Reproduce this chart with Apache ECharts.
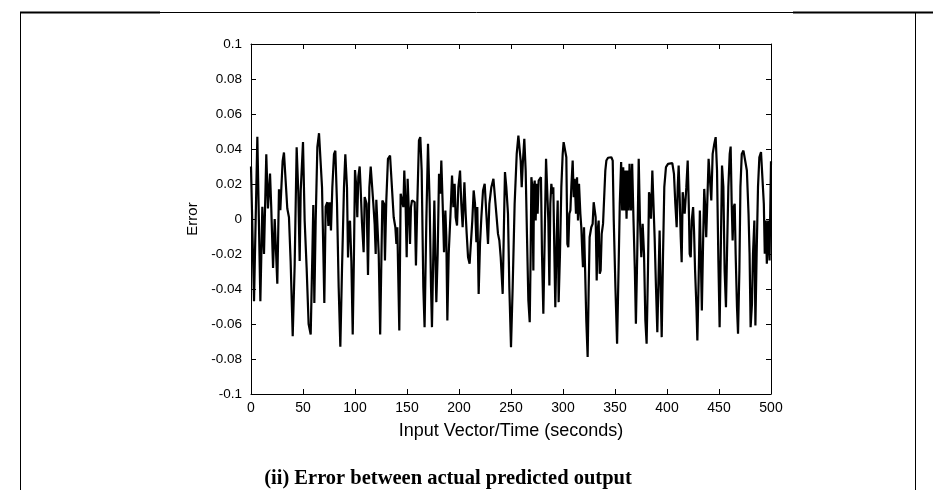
<!DOCTYPE html>
<html><head><meta charset="utf-8">
<script src="https://cdn.jsdelivr.net/npm/echarts@6.0.0/dist/echarts.min.js"></script>
<style>html,body{margin:0;padding:0;background:#fff}#c{width:933px;height:490px}</style>
</head><body><div id="c"></div>
<script>
const timeValues = [
0,2.9,6.1,9,10.9,12.5,14.7,16.3,18.3,19.5,21.2,22.1,22.8,24.4,25.3,26.9,28.2,29.2,30.4,31.7,33.3,34.9,36.5,38.1,40.1,42,43.9,45.5,46.8,47.8,50,51.6,53.5,55.4,57.4,59,59.9,60.9,62.2,63.8,65.4,67,68.3,69.6,70.5,71.8,73.4,74.4,75.6,76.9,78.2,79.8,81.1,82.7,84.3,85.9,87.5,89.4,90.7,92.3,93.3,94.2,95.2,96.5,97.8,99,100,101.3,102.2,103.2,104.5,105.4,106.7,108.3,109.3,110.3,111.2,112.5,113.8,115.1,116.3,117.6,118.9,119.9,120.5,121.5,122.8,124.2,
126.3,127.9,128.8,130.1,131.7,133.7,135.6,137.2,138.8,139.8,140.7,142.6,143.9,145.5,146.5,147.4,148.7,149.7,150.6,151.9,152.9,153.8,154.8,156.1,157.4,158.6,159.9,161.5,162.8,164.1,165.7,166.9,168.6,170.2,171.8,173.1,174,175.3,176.3,177.2,178.2,179.5,180.8,182.1,183,184.3,185.6,186.9,187.8,188.8,190.1,191.7,193.3,194.6,195.8,196.8,198.1,199.4,201,202.2,203.5,205.2,206.4,207.4,208.7,210.2,211.8,212.8,214.1,215.4,216.7,217.6,218.9,220.2,221.5,223.1,224.7,226.6,227.9,229.2,231.1,233.1,234.6,235.9,237.5,238.8,240.1,242,243.3,244.2,245.5,247.1,
248.4,250,251.6,253.5,255.5,257.1,258.3,259.3,260.3,261.5,262.8,264.1,265.4,266.7,268,268.9,269.6,270.5,271.5,272.1,272.8,273.7,274.7,275.6,276.6,277.6,278.8,279.8,281.1,282.4,283.7,285,285.9,286.9,287.8,288.8,289.8,290.7,291.7,292.6,293.9,294.9,295.8,297.1,298.4,299.7,300.6,302.2,303.2,304.2,305.1,306.1,307.1,308,309.3,310.3,311.2,312.5,313.5,314.4,315.4,316.7,317.6,318.6,319.2,320.2,321.2,322.4,323.7,324.7,325.6,327.2,328.5,329.5,330.4,331.4,332.4,333.3,334.3,335.3,336.2,337.2,338.5,339.7,340.7,341.7,343.3,344.9,346.5,347.8,348.8,350.4,352,353.4,354.6,355.9,356.9,357.9,358.8,360.1,361.1,362,363,364,365.3,366.5,367.8,369.1,370.1,371.4,
372.8,374,375.3,376.6,377.9,379.2,380.4,381.7,382.7,383.7,384.6,385.9,386.9,388.1,389.4,390.7,392,392.9,393.9,394.9,396.2,397.4,399,401,402.9,405.1,406.7,408,409.3,410.3,411.2,412.2,413.2,414.1,415.1,416.1,417,418.6,419.9,420.9,421.8,422.8,423.8,425.1,426,427,428.3,429.2,430.4,431.6,432.6,433.5,434.8,435.8,436.7,437.7,438.7,440,441.3,442.6,443.9,445.5,446.8,448.1,449.4,450.6,451.9,452.9,454.2,455.4,456.7,457.7,459,460.3,461.2,462.2,463.1,464.1,465.1,466,467.3,468.3,469.6,470.6,471.9,473.5,475.1,476.8,478.4,479.4,480.4,481.7,482.7,484,485,486.2,487.5,488.8,490.4,492.1,493.1,494,495,496,497.3,498.6,500
];
const errorValues = [
0.03,-0.047,0.047,-0.047,0.007,-0.020,0.037,0.006,0.026,0.006,-0.028,-0.028,0.0,0.0,-0.037,0.017,0.005,0.018,0.033,0.038,0.022,0.006,0.001,-0.024,-0.067,-0.026,0.041,0.015,-0.024,0.016,0.044,-0.001,-0.028,-0.060,-0.066,-0.020,0.008,-0.048,-0.001,0.041,0.049,0.050,0.018,-0.020,-0.048,0.007,0.0096,-0.004,0.0096,-0.0066,0.018,0.037,0.039,0.0087,-0.039,-0.073,-0.029,0.018,0.037,0.018,-0.022,-0.003,-0.001,-0.024,-0.066,-0.020,0.028,0.018,0.001,0.024,0.030,0.018,-0.002,-0.019,0.0125,0.0125,0.0087,-0.032,0.018,0.030,0.031,0.009,-0.003,-0.020,0.011,0.010,-0.020,-0.066,
0.0106,0.0087,-0.0237,0.0106,0.0344,0.0363,0.0363,0.001,-0.0047,-0.0142,-0.0047,-0.0637,0.0144,0.0153,0.0068,0.0277,0.0068,-0.0218,0.023,0.022,-0.0142,0.0068,0.0106,0.0106,0.0096,-0.0266,0.0087,0.0449,0.0468,0.0277,-0.039,-0.0618,-0.0009,0.043,0.0087,-0.039,-0.0618,-0.0199,0.0106,-0.0199,-0.0475,-0.0199,0.0258,0.0144,0.0334,0.0087,-0.019,0.0049,-0.0104,-0.058,-0.0199,0.001,0.0249,0.0068,0.0201,0.001,-0.0037,0.0182,0.0277,0.0087,-0.0047,0.021,0.003,-0.0085,-0.0218,-0.0256,-0.0256,-0.0009,0.0163,0.0087,-0.0133,0.0068,-0.0428,-0.0142,0.001,0.0163,0.0201,0.0201,-0.0142,0.0087,0.0182,0.023,0.023,0.003,-0.0085,-0.0123,-0.0218,-0.0428,-0.0009,0.0268,0.0182,0.003,
-0.039,-0.0732,-0.039,0.0087,0.0372,0.0477,0.0487,0.0334,0.0182,0.0334,0.0458,0.0277,-0.0104,-0.0466,-0.059,-0.0199,0.0239,0.0182,-0.0294,0.0182,0.022,-0.0009,0.0201,0.003,0.022,0.023,0.0239,-0.0199,-0.0542,-0.0104,0.0344,0.0334,-0.0009,-0.038,0.0087,0.0201,0.0144,0.0182,-0.0199,-0.0504,-0.0104,0.0106,-0.0475,-0.0199,0.0182,0.0372,0.0439,0.0449,0.0353,-0.0142,-0.0161,0.003,0.0049,0.0182,0.0334,0.0125,0.023,0.003,0.0239,-0.0009,0.0201,0.003,-0.0047,-0.0199,-0.0275,-0.0047,-0.0275,-0.058,-0.0789,-0.039,-0.0104,-0.0047,-0.0028,0.0096,0.0096,0.001,-0.0351,-0.0066,-0.0009,-0.0313,-0.0294,-0.0085,-0.0028,-0.0028,0.0277,0.0334,0.035,0.0353,0.0353,0.0334,-0.0009,-0.039,-0.0713,-0.0294,0.0087,0.0325,0.0049,0.0296,0.0049,0.0277,0.0001,0.0277,0.0049,0.0315,0.0049,0.0315,-0.0009,-0.0294,-0.0599,-0.0199,
0.0344,-0.0009,-0.0218,-0.0028,-0.0199,-0.058,-0.0713,-0.0294,0.0153,0.0125,0.0001,0.0277,0.0287,-0.0104,-0.039,-0.0647,-0.0294,-0.0066,-0.039,-0.0675,-0.0199,0.0182,0.0296,0.0315,0.0319,0.0319,0.0258,0.0087,-0.0047,0.0182,0.0306,0.0125,-0.0104,-0.0247,0.0153,0.0163,0.003,0.0182,0.0334,0.0087,-0.0199,-0.0218,-0.0009,0.0068,-0.0066,-0.0294,-0.0504,-0.0694,-0.0351,0.0049,-0.0237,-0.0523,-0.0104,0.0172,0.0068,-0.0104,0.0087,0.0344,0.0334,0.0106,0.0372,0.043,0.0468,0.0277,-0.0237,-0.0618,-0.0104,0.0306,0.0182,-0.0294,-0.0504,-0.0199,0.0182,0.0372,0.0414,0.0087,-0.0123,0.0068,0.0087,-0.0199,-0.0504,-0.0656,-0.0294,0.0182,0.0372,0.0391,0.0395,0.0277,0.003,-0.0199,-0.0618,-0.0485,-0.0199,-0.0009,-0.0609,-0.0199,0.0182,0.0353,0.0382,0.0382,0.0087,-0.0199,-0.0009,-0.0256,-0.0009,-0.0237,0.033
];
const xAxisName = 'Input Vector/Time (seconds)';
const yAxisName = 'Error';
const captionText = '(ii) Error between actual predicted output';

const chart = echarts.init(document.getElementById('c'), null, {renderer:'canvas'});
const lineData = timeValues.map((t, i) => [t, errorValues[i]]);
const fmtY = v => String(+(+v).toFixed(2));
const tickFont = 'Liberation Sans, Arial, sans-serif';
function axisBase() {
  return {
    axisLine:{show:true, onZero:false, lineStyle:{color:'#000', width:1}},
    axisTick:{show:true, inside:true, length:5, lineStyle:{color:'#000'}},
    splitLine:{show:false}
  };
}
chart.setOption({
  animation:false,
  backgroundColor:'#fff',
  grid:{left:251, right:162, top:44, bottom:96, show:false},
  xAxis:[
    Object.assign(axisBase(), {type:'value', min:0, max:500, interval:50, position:'bottom',
      axisLabel:{color:'#000', fontSize:14, fontFamily:tickFont, margin:7},
      name:xAxisName, nameLocation:'middle', nameGap:28,
      nameTextStyle:{color:'#000', fontSize:18, fontFamily:tickFont}}),
    Object.assign(axisBase(), {type:'value', min:0, max:500, interval:50, position:'top',
      axisLabel:{show:false}})
  ],
  yAxis:[
    Object.assign(axisBase(), {type:'value', min:-0.1, max:0.1, interval:0.02, position:'left',
      axisLabel:{color:'#000', fontSize:13.5, fontFamily:tickFont, margin:9, formatter:fmtY},
      name:yAxisName, nameLocation:'middle', nameGap:45,
      nameTextStyle:{color:'#000', fontSize:15, fontFamily:tickFont}}),
    Object.assign(axisBase(), {type:'value', min:-0.1, max:0.1, interval:0.02, position:'right',
      axisLabel:{show:false}})
  ],
  graphic:[
    {type:'line', shape:{x1:20, y1:12.5, x2:933, y2:12.5}, style:{stroke:'#000', lineWidth:1}},
    {type:'line', shape:{x1:20, y1:12.5, x2:160, y2:12.5}, style:{stroke:'#000', lineWidth:2}},
    {type:'line', shape:{x1:793, y1:12.5, x2:933, y2:12.5}, style:{stroke:'#000', lineWidth:2}},
    {type:'line', shape:{x1:20.5, y1:12, x2:20.5, y2:490}, style:{stroke:'#000', lineWidth:1}},
    {type:'line', shape:{x1:915.5, y1:12, x2:915.5, y2:490}, style:{stroke:'#000', lineWidth:1}},
    {type:'text', x:448, y:468, style:{text:captionText, textAlign:'center', textVerticalAlign:'top',
      font:'bold 20.5px "Liberation Serif", "Times New Roman", serif', fill:'#000'}}
  ],
  series:[{type:'line', data:lineData, xAxisIndex:0, yAxisIndex:0, showSymbol:false, symbol:'none',
    lineStyle:{color:'#000', width:2.2}, itemStyle:{color:'#000'}}]
});
</script></body></html>
